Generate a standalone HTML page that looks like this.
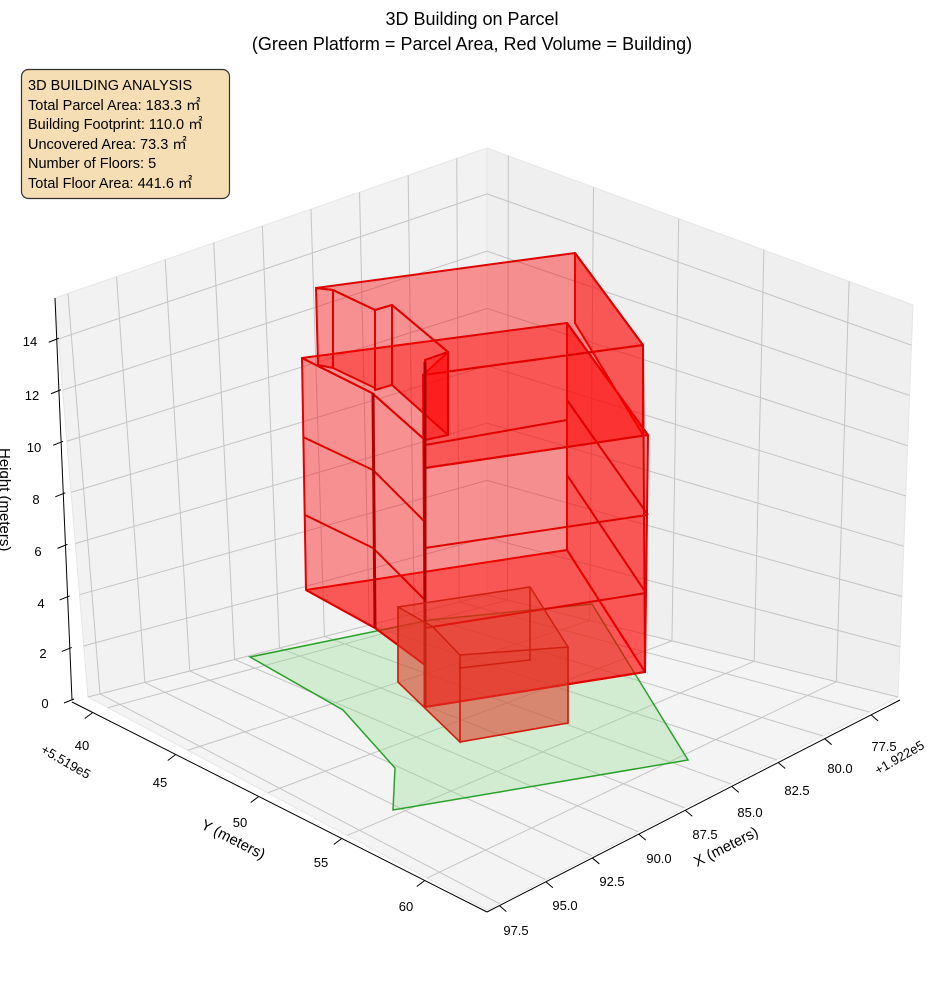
<!DOCTYPE html>
<html><head><meta charset="utf-8"><style>
html,body{margin:0;padding:0;background:#fff;}
svg{display:block;font-family:"Liberation Sans","Noto Sans CJK JP",sans-serif;}
</style></head><body>
<svg id="s" width="944" height="992" viewBox="0 0 944 992" xmlns="http://www.w3.org/2000/svg">
<rect width="944" height="992" fill="#fff"/>
<polygon points="88,697 487,595 487,148 55,298" fill="#f2f2f2" stroke="#e6e6e6"/>
<polygon points="487,595 898,697 913,305 487,148" fill="#efefef" stroke="#e6e6e6"/>
<polygon points="88,697 487,595 898,697 487,910" fill="#f4f4f4" stroke="#e6e6e6"/>
<g id="grid" stroke="#c4c4c4" stroke-width="1" fill="none"></g>
<g stroke="#000" stroke-width="1" fill="none">
<line x1="55" y1="298" x2="72" y2="700"/>
<line x1="72" y1="702" x2="487" y2="912"/>
<line x1="487" y1="912" x2="900" y2="700"/>
</g>
<g id="ticks" stroke="#000" stroke-width="1"></g>
<g font-size="13" fill="#000" id="labels">
<text x="45" y="708" text-anchor="middle">0</text>
<text x="43" y="658" text-anchor="middle">2</text>
<text x="41" y="608" text-anchor="middle">4</text>
<text x="38" y="556" text-anchor="middle">6</text>
<text x="36" y="504" text-anchor="middle">8</text>
<text x="34" y="452" text-anchor="middle">10</text>
<text x="32" y="400" text-anchor="middle">12</text>
<text x="30" y="346" text-anchor="middle">14</text>
<text x="82" y="750" text-anchor="middle">40</text>
<text x="160" y="787" text-anchor="middle">45</text>
<text x="240" y="827" text-anchor="middle">50</text>
<text x="321" y="867" text-anchor="middle">55</text>
<text x="406" y="911" text-anchor="middle">60</text>
<text x="884" y="751" text-anchor="middle">77.5</text>
<text x="840" y="773" text-anchor="middle">80.0</text>
<text x="797" y="795" text-anchor="middle">82.5</text>
<text x="750" y="817" text-anchor="middle">85.0</text>
<text x="705" y="839" text-anchor="middle">87.5</text>
<text x="659" y="863" text-anchor="middle">90.0</text>
<text x="612" y="886" text-anchor="middle">92.5</text>
<text x="565" y="910" text-anchor="middle">95.0</text>
<text x="516" y="935" text-anchor="middle">97.5</text>
<text transform="translate(40,752) rotate(30)" font-size="13">+5.519e5</text>
<text transform="translate(878,775) rotate(-30)" font-size="13">+1.922e5</text>
<text transform="translate(200,828) rotate(27)" font-size="15">Y (meters)</text>
<text transform="translate(697,867) rotate(-27)" font-size="15">X (meters)</text>
<text transform="translate(0,448) rotate(90)" font-size="15">Height (meters)</text>
</g>
<polygon points="250,657 343,710 395,768 393,810 688,760 592,604 430,620" fill="rgba(144,220,144,0.35)" stroke="#2ca02c" stroke-width="1.5"/>
<g fill="rgba(255,0,0,0.4)" stroke="#e00000" stroke-width="2" stroke-linejoin="round">
<polygon points="306,590 567,550 645,672 425,707 425,665 375,628"/>
<polygon points="567,323 567,550 645,672 648,435"/>
<polygon points="575,253 643,345 643,435 575,323"/>
<polygon points="316,288 575,253 643,345 423,375 448,352 392,305 375,310 333,290"/>
<polygon points="302,358 567,323 648,435 425,468 425,440 372,393"/>
<polygon points="423,375 643,345 645,672 425,707"/>
<polygon points="302,358 372,393 425,440 425,665 375,628 306,590"/>
<polygon points="316,288 333,290 333,368 318,365"/>
<polygon points="333,290 375,310 375,388 333,368"/>
<polygon points="375,310 392,305 392,385 375,390"/>
<polygon points="392,305 448,352 448,435 392,385"/>
<polygon points="425,360 448,352 448,435 425,440"/>
<polyline points="303,437 373,470 425,522" fill="none"/>
<polyline points="305,515 373,548 425,600" fill="none"/>
<polyline points="425,468 648,435" fill="none"/>
<polyline points="425,548 647,515" fill="none"/>
<polyline points="425,628 646,593" fill="none"/>
<polyline points="567,400 648,515" fill="none"/>
<polyline points="567,475 646,593" fill="none"/>
<polyline points="425,445 567,420" fill="none"/>
<line x1="373" y1="393" x2="375" y2="628" stroke="#b00000" stroke-width="3"/>
<line x1="425" y1="362" x2="425" y2="707" stroke="#b00000" stroke-width="3"/>
</g>
<g fill="rgba(220,60,40,0.35)" stroke="#d02010" stroke-width="1.5">
<polygon points="398,607 530,587 568,647 568,723 460,742 398,682"/>
<polygon points="398,607 433,627 460,655 460,742 398,682"/>
<polygon points="460,655 568,647 568,723 460,742"/>
<polyline points="530,587 530,660 460,668" fill="none"/>
</g>
<text x="472" y="25" text-anchor="middle" font-size="18">3D Building on Parcel</text>
<text x="472" y="50" text-anchor="middle" font-size="18">(Green Platform = Parcel Area, Red Volume = Building)</text>
<rect x="21.5" y="69.5" width="208" height="129" rx="7" fill="#f5deb3" stroke="#333" stroke-width="1.2"/>
<g font-size="14.5" fill="#000">
<text x="28" y="90">3D BUILDING ANALYSIS</text>
<text x="28" y="110">Total Parcel Area: 183.3 ㎡</text>
<text x="28" y="129">Building Footprint: 110.0 ㎡</text>
<text x="28" y="149">Uncovered Area: 73.3 ㎡</text>
<text x="28" y="168">Number of Floors: 5</text>
<text x="28" y="188">Total Floor Area: 441.6 ㎡</text>
</g>
<script>
(function(){
var ns="http://www.w3.org/2000/svg",g=document.getElementById('grid'),t=document.getElementById('ticks');
function L(a,b,p){return [a[0]+(b[0]-a[0])*p,a[1]+(b[1]-a[1])*p];}
function ln(par,a,b){var e=document.createElementNS(ns,'line');e.setAttribute('x1',a[0]);e.setAttribute('y1',a[1]);e.setAttribute('x2',b[0]);e.setAttribute('y2',b[1]);par.appendChild(e);}
var Lc=[88,697],B=[487,595],R=[898,697],F=[487,910],LT=[55,298],BT=[487,148],RT=[913,305];
var i,f;
for(i=0;i<=7;i++){f=(2*i)/15.6;var pl=L(Lc,LT,f),pb=L(B,BT,f),pr=L(R,RT,f);ln(g,pl,pb);ln(g,pb,pr);}
for(i=0;i<=8;i++){f=0.03+0.1125*i;var a=L(F,R,f),b=L(Lc,B,f),c=L(LT,BT,f);ln(g,a,b);ln(g,b,c);
 var ax=L([487,912],[900,700],f);ln(t,ax,[ax[0]+7,ax[1]+6]);}
for(i=0;i<=4;i++){f=0.05+0.2*i;var a=L(Lc,F,f),b=L(B,R,f),c=L(BT,RT,f);ln(g,a,b);ln(g,b,c);
 var ay=L([72,702],[487,912],f);ln(t,ay,[ay[0]-8,ay[1]+6]);}
for(i=0;i<=7;i++){f=(2*i)/15.6;var az=L([72,700],[55,298],f*1.0);ln(t,[az[0]-8,az[1]+3],[az[0]+2,az[1]-1]);}
})();
</script>
</svg>
</body></html>
